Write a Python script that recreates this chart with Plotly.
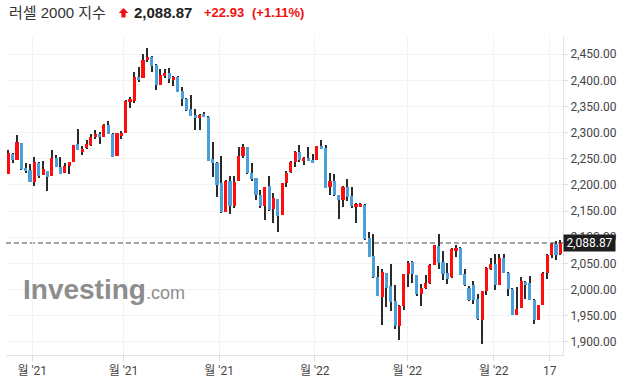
import plotly.graph_objects as go

# Daily candles
opens = [2221.5, 2258.5, 2248.3, 2280.2, 2232.3, 2228.5, 2206.2, 2241.9, 2219.6, 2226.6,
         2217.6, 2251.5, 2234.2, 2223.4, 2236.1, 2244.4, 2278.2, 2263.6, 2271.2, 2277.0,
         2291.6, 2297.4, 2292.3, 2313.9, 2297.4, 2255.9, 2293.5, 2299.9, 2359.2, 2361.1,
         2406.4, 2405.1, 2439.6, 2444.7, 2429.4, 2391.7, 2409.0, 2414.1, 2401.3, 2406.4,
         2379.0, 2364.3, 2345.2, 2333.1, 2328.6, 2335.0, 2329.9, 2249.5, 2241.9, 2203.0,
         2148.7, 2207.4, 2160.2, 2208.0, 2255.9, 2271.8, 2222.7, 2212.5, 2180.6, 2160.2,
         2197.8, 2153.2, 2172.3, 2143.0, 2204.2, 2224.0, 2244.4, 2262.9, 2246.3, 2251.4,
         2247.6, 2248.2, 2274.4, 2270.5, 2195.3, 2207.4, 2180.6, 2171.7, 2195.9, 2178.7,
         2158.3, 2158.3, 2161.5, 2098.4, 2064.0, 2023.8, 1986.2, 2030.8, 2006.6, 1977.2,
         1930.7, 1968.3, 2028.9, 2052.5, 2027.6, 1991.9, 2003.4, 2012.3, 2047.4, 2083.1,
         2052.5, 2031.4, 2023.1, 2074.1, 2079.2, 2028.9, 2002.7, 2008.4, 1981.7, 1942.1,
         1996.3, 2039.1, 2049.3, 2009.1, 2060.1, 2032.0, 2000.8, 1951.7, 1965.1, 2014.8,
         2012.3, 1980.4, 1942.1, 1970.8, 2032.0, 2065.2, 2086.9, 2067.1]
highs = [2266.8, 2261.7, 2295.5, 2281.0, 2241.9, 2239.3, 2253.4, 2243.0, 2245.1, 2227.5,
         2266.8, 2257.2, 2253.4, 2241.3, 2244.5, 2276.5, 2306.3, 2274.4, 2285.9, 2297.4,
         2305.0, 2301.2, 2315.9, 2322.2, 2298.5, 2299.9, 2303.1, 2361.5, 2367.5, 2416.0,
         2425.5, 2449.8, 2461.9, 2446.0, 2430.5, 2421.7, 2421.7, 2423.6, 2408.3, 2407.5,
         2386.6, 2365.5, 2371.3, 2344.6, 2335.0, 2339.5, 2331.0, 2281.4, 2243.0, 2254.6,
         2208.5, 2217.0, 2217.0, 2271.8, 2277.5, 2273.0, 2241.2, 2213.5, 2189.5, 2196.5,
         2216.3, 2183.8, 2173.5, 2204.5, 2225.9, 2246.3, 2264.0, 2276.3, 2252.7, 2271.8,
         2259.7, 2275.0, 2286.5, 2276.3, 2222.1, 2220.2, 2181.5, 2197.9, 2210.6, 2196.6,
         2164.5, 2165.3, 2162.5, 2109.2, 2105.4, 2044.8, 2038.4, 2032.0, 2048.0, 2007.8,
         1969.5, 2030.5, 2054.4, 2054.4, 2028.5, 2011.0, 2027.0, 2048.6, 2085.5, 2105.4,
         2074.2, 2049.9, 2078.5, 2085.6, 2080.5, 2038.4, 2006.5, 2016.1, 1991.9, 1997.5,
         2042.0, 2059.5, 2067.1, 2067.1, 2067.1, 2033.0, 2002.0, 2004.6, 2023.1, 2016.0,
         2025.7, 1981.5, 1970.5, 2032.5, 2067.0, 2088.0, 2092.6, 2094.5]
lows = [2220.5, 2241.3, 2247.0, 2228.5, 2223.4, 2205.5, 2198.5, 2212.5, 2218.5, 2189.0,
        2216.5, 2233.5, 2220.5, 2222.5, 2221.5, 2243.5, 2266.5, 2256.6, 2269.3, 2274.4,
        2287.2, 2278.9, 2291.5, 2297.5, 2253.5, 2255.0, 2288.4, 2299.0, 2347.7, 2356.0,
        2397.5, 2404.0, 2435.1, 2416.6, 2382.2, 2390.5, 2405.1, 2394.9, 2389.2, 2377.0,
        2350.3, 2342.0, 2331.0, 2304.4, 2305.7, 2329.5, 2245.0, 2215.7, 2176.2, 2147.0,
        2147.5, 2143.6, 2155.1, 2207.0, 2250.8, 2221.0, 2208.0, 2171.1, 2156.4, 2132.8,
        2151.0, 2127.7, 2109.8, 2142.0, 2196.6, 2222.1, 2233.5, 2244.4, 2238.0, 2244.8,
        2241.5, 2247.0, 2268.0, 2193.5, 2180.6, 2179.5, 2134.1, 2157.1, 2169.8, 2155.1,
        2126.4, 2157.5, 2095.5, 2061.5, 2022.5, 1987.0, 1931.3, 1967.0, 1958.7, 1924.9,
        1902.6, 1960.0, 2004.0, 2012.9, 1987.4, 1968.9, 2001.5, 2011.0, 2046.0, 2039.7,
        2017.4, 2011.0, 2022.0, 2061.4, 2027.0, 2005.9, 1978.5, 1971.5, 1941.5, 1894.9,
        1988.7, 2038.0, 1998.2, 2008.0, 2031.0, 1987.4, 1950.5, 1950.5, 1964.0, 1982.3,
        1979.0, 1933.2, 1941.0, 1969.5, 2019.3, 2060.1, 2055.6, 2066.0]
closes = [2261.0, 2248.3, 2282.1, 2231.0, 2226.6, 2206.2, 2243.8, 2217.0, 2230.4, 2215.7,
          2251.5, 2234.9, 2221.5, 2236.1, 2243.8, 2275.7, 2267.4, 2268.7, 2278.2, 2291.0,
          2297.4, 2292.3, 2313.9, 2298.0, 2254.0, 2298.6, 2299.3, 2360.5, 2364.3, 2406.4,
          2400.7, 2438.9, 2444.7, 2428.1, 2391.7, 2410.2, 2414.1, 2403.2, 2406.4, 2378.4,
          2365.0, 2343.9, 2332.4, 2328.6, 2333.7, 2330.5, 2246.4, 2242.5, 2200.4, 2148.1,
          2207.4, 2160.2, 2205.5, 2255.2, 2271.8, 2222.1, 2211.9, 2181.3, 2160.2, 2195.3,
          2151.9, 2174.2, 2141.1, 2203.6, 2222.7, 2243.1, 2262.9, 2248.2, 2250.8, 2245.7,
          2242.5, 2273.7, 2269.3, 2194.6, 2207.4, 2180.6, 2171.1, 2195.9, 2177.5, 2160.2,
          2163.4, 2163.4, 2096.5, 2062.7, 2024.4, 1988.1, 2033.3, 2003.4, 1976.6, 1930.7,
          1968.3, 2029.5, 2049.9, 2029.5, 1991.3, 2002.1, 2011.7, 2046.7, 2084.4, 2051.2,
          2029.5, 2020.6, 2077.3, 2079.2, 2028.2, 2008.4, 1980.4, 1980.4, 1943.4, 1996.3,
          2041.0, 2048.6, 2009.1, 2060.1, 2032.0, 2001.4, 1951.7, 1962.5, 2016.1, 2009.1,
          1980.4, 1942.1, 1969.6, 2031.4, 2065.8, 2086.9, 2066.5, 2088.87]

tick_pos = [5.5, 26.5, 48.5, 70.5, 91.8, 111.7, 124.6]
tick_text = ["월 '21", "월 '21", "월 '21", "월 '22", "월 '22", "월 '22", "17"]
y_ticks = [1900, 1950, 2000, 2050, 2100, 2150, 2200, 2250, 2300, 2350, 2400, 2450]

title_name = "러셀 2000 지수"
last_price = 2088.87
change_txt = "+22.93"
change_pct = "(+1.11%)"

UP = "#ff0d0d"
DOWN = "#4aa0dc"
WICK = "#2a2a2a"

n = len(closes)
xs = list(range(n))
body_base = [min(o, c) for o, c in zip(opens, closes)]
body_h = [max(abs(c - o), 0.8) for o, c in zip(opens, closes)]
body_col = [UP if c >= o else DOWN for o, c in zip(opens, closes)]

fig = go.Figure()
fig.add_trace(go.Bar(x=xs, y=[h - l for h, l in zip(highs, lows)], base=lows,
                     width=0.25, marker=dict(color=WICK, line=dict(width=0)),
                     hoverinfo="skip", showlegend=False))
fig.add_trace(go.Bar(x=xs, y=body_h, base=body_base, width=0.72,
                     marker=dict(color=body_col, line=dict(width=0)),
                     hoverinfo="skip", showlegend=False))

# plot area geometry (pixels)
L, R, T, B = 6, 62, 36, 23
W, H = 625, 378
pw, ph = W - L - R, H - T - B


def px(xp):
    return (xp - L) / pw


def py(yp):
    return (H - B - yp) / ph


fig.add_shape(type="line", xref="paper", x0=0, x1=1, yref="y", y0=last_price, y1=last_price,
              line=dict(color="#a3a3a3", width=2, dash="5px,3px"), layer="below")

# title pieces
fnt = "Liberation Sans, Arial, Noto Sans CJK KR"
fig.add_annotation(xref="paper", yref="paper", x=px(7), y=py(12), xanchor="left", yanchor="middle",
                   text=title_name, showarrow=False,
                   font=dict(family=fnt, size=15, color="#333333"))
fig.add_annotation(xref="paper", yref="paper", x=px(132), y=py(12), xanchor="left", yanchor="middle",
                   text="<b>%s</b>" % f"{last_price:,.2f}", showarrow=False,
                   font=dict(family=fnt, size=15, color="#222222"))
fig.add_annotation(xref="paper", yref="paper", x=px(202), y=py(12.5), xanchor="left", yanchor="middle",
                   text="<b>%s</b>" % change_txt, showarrow=False,
                   font=dict(family=fnt, size=13, color="#f01010"))
fig.add_annotation(xref="paper", yref="paper", x=px(250), y=py(12.5), xanchor="left", yanchor="middle",
                   text="<b>%s</b>" % change_pct, showarrow=False,
                   font=dict(family=fnt, size=13, color="#f01010"))
# up arrow glyph
arrow_pts = [(123.5, 8), (128.3, 13), (125.6, 13), (125.6, 17.5), (121.4, 17.5), (121.4, 13), (118.7, 13)]
path = "M " + " L ".join("%f,%f" % (px(a), py(b)) for a, b in arrow_pts) + " Z"
fig.add_shape(type="path", xref="paper", yref="paper", path=path,
              fillcolor="#f01010", line=dict(width=0))

# watermark
fig.add_annotation(xref="paper", yref="paper", x=px(21), y=py(289), xanchor="left", yanchor="middle",
                   text="<b>Investing</b><span style='font-size:18px'>.com</span>", showarrow=False,
                   font=dict(family="Liberation Sans, Arial", size=28, color="#8d8d8d"))

# last price box
fig.add_annotation(xref="paper", yref="y", x=1, y=last_price, xanchor="left", yanchor="middle",
                   text=f"{last_price:,.2f}", showarrow=False, width=50, height=15,
                   bgcolor="#1e1e1e", borderpad=0.5,
                   font=dict(family="Roboto, Arial", size=12, color="#ffffff"))

fig.update_layout(
    width=W, height=H, autosize=False, margin=dict(l=L, r=R, t=T, b=B, pad=0, autoexpand=False),
    paper_bgcolor="white", plot_bgcolor="white",
    barmode="overlay", bargap=0, showlegend=False,
    font=dict(family="Roboto, Noto Sans CJK KR, Arial", size=12, color="#333333"),
    xaxis=dict(range=[-0.53, 127.62], tickmode="array", tickvals=tick_pos, ticktext=tick_text,
               showgrid=True, gridcolor="#f3f3f3", gridwidth=1, zeroline=False,
               showline=True, linecolor="#e3e3e3", linewidth=1, automargin=False,
               ticks="outside", ticklen=5, tickcolor="#dddddd",
               tickfont=dict(family="Roboto, Noto Sans CJK KR", size=12, color="#444444"),
               fixedrange=True),
    yaxis=dict(side="right", range=[1874.6, 2484.8], tickmode="array", tickvals=y_ticks,
               tickformat=",.2f", showgrid=True, gridcolor="#f3f3f3", gridwidth=1,
               zeroline=False, showline=True, linecolor="#e3e3e3", linewidth=1, automargin=False,
               ticks="outside", ticklen=4, tickcolor="#dddddd",
               tickfont=dict(family="Roboto, Arial", size=12, color="#444444"),
               fixedrange=True),
)

fig.write_html("out.html", config={"displayModeBar": False, "responsive": False},
               post_script="document.body.style.margin='0';document.body.style.overflow='hidden';")
